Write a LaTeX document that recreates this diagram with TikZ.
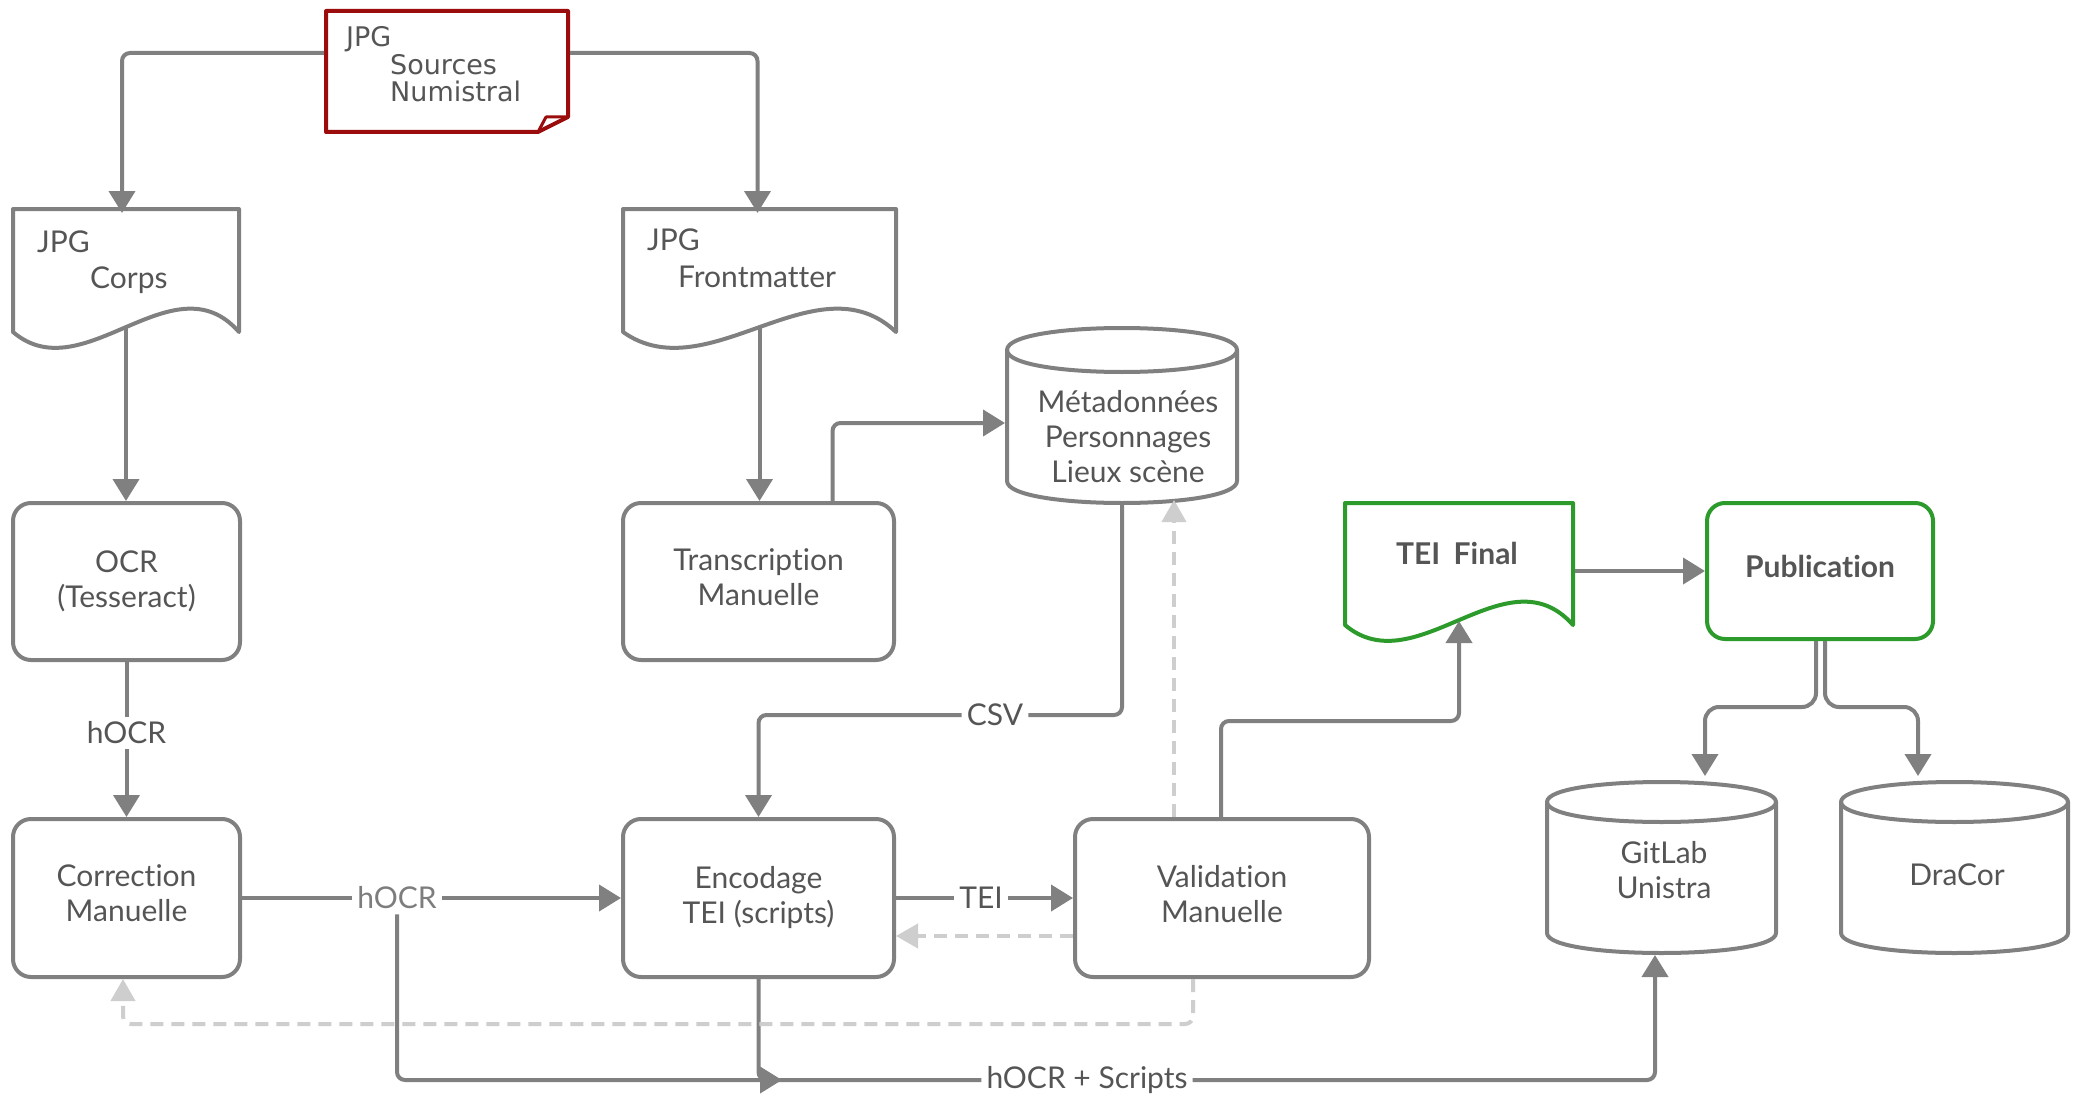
\documentclass[tikz,border=0pt]{standalone}
\usepackage{fontspec}
\setmainfont{Lato}[Ligatures={NoCommon}]
\newfontfamily\djv{DejaVu Sans}
\usetikzlibrary{arrows.meta,calc}
\definecolor{lg}{RGB}{128,128,128}
\definecolor{dg}{RGB}{206,206,206}
\definecolor{tx}{RGB}{85,85,85}
\definecolor{lt}{RGB}{125,125,125}
\definecolor{dred}{RGB}{155,12,12}
\definecolor{grn}{RGB}{44,155,44}
\newcommand\fsz{\fontsize{30pt}{35pt}\selectfont}
\newcommand\fsd{\djv\fontsize{27pt}{27pt}\selectfont}
\newcommand\dpx{\rule[-9pt]{0pt}{9pt}}
\newcommand\docshape[5]{%
  \pgfmathsetmacro\dw{#3-#1}%
  \draw[outl, draw=#5] (#1,#4) -- (#1,#2) -- (#3,#2) -- (#3,#4) .. controls ({#3-0.29*\dw},{#4-75}) and ({#1+0.31*\dw},{#4+60}) .. (#1,#4) -- cycle;}
\newcommand\cylshape[5]{%
  \pgfmathsetmacro\cyt{#2+#5}%
  \pgfmathsetmacro\cyb{#4-#5}%
  \pgfmathsetmacro\cyk{4/3*#5}%
  \draw[outl, draw=lg] (#1,\cyt) -- (#1,\cyb) .. controls ({#1},{\cyb+\cyk}) and ({#3},{\cyb+\cyk}) .. (#3,\cyb) -- (#3,\cyt) .. controls ({#3},{\cyt-\cyk}) and ({#1},{\cyt-\cyk}) .. cycle;
  \draw[line width=4pt, draw=lg] (#1,\cyt) .. controls ({#1},{\cyt+\cyk}) and ({#3},{\cyt+\cyk}) .. (#3,\cyt);}
\begin{document}
\begin{tikzpicture}[x=1pt,y=-1pt,
  every node/.style={text=tx},
  shp/.style={inner sep=0pt, outer sep=2pt, draw=none},
  rbox/.style={draw=lg, line width=4pt, rounded corners=18pt, fill=white, inner sep=0pt, font=\fsz, align=center},
  txt/.style={inner sep=0pt, font=\fsz, align=center},
  tl/.style={anchor=base west, inner sep=0pt, font=\fsz},
  lbl/.style={fill=white, inner sep=5pt, font=\fsz},
  ln/.style={draw=lg, line width=4pt, rounded corners=8pt},
  arr/.style={ln, -{Triangle[length=22pt,width=26pt]}},
  dsh/.style={draw=dg, line width=4pt, rounded corners=8pt, dash pattern=on 13pt off 8pt, -{Triangle[length=22pt,width=24pt]}},
  outl/.style={line width=4pt, fill=white, line join=round},
]
\useasboundingbox[fill=white] (0,0) rectangle (2078,1097);

% Sources
\draw[outl, draw=dred] (326,11) -- (568,11) -- (568,117) -- (538,132) -- (326,132) -- cycle;
\draw[line width=3pt, draw=dred, line join=round] (538,132) -- (546,117) -- (568,117);
\node[shp, minimum width=242pt, minimum height=121pt] (src) at (447,71.5) {};
\node[anchor=base west, inner sep=0pt, font=\fsd] (srcA) at (346,47) {JPG};
\node[anchor=base west, inner sep=0pt, font=\fsd] (srcB) at (390,75) {Sources};
\node[anchor=base west, inner sep=0pt, font=\fsd] (srcC) at (390,102) {Numistral};

% documents
\docshape{13}{209}{239}{332}{lg}
\node[shp, minimum width=226pt, minimum height=123pt] (corps) at (126,270.5) {};
\node[tl] (corpsA) at (37,252) {JPG};
\node[tl] (corpsB) at (90,288) {Corps};

\docshape{623}{209}{896}{332}{lg}
\node[shp, minimum width=273pt, minimum height=123pt] (front) at (759.5,270.5) {};
\node[tl] (frontA) at (647,250) {JPG};
\node[tl] (frontB) at (678,287) {Frontmatter};

\docshape{1345}{503}{1573}{625}{grn}
\node[shp, minimum width=228pt, minimum height=122pt] (teif) at (1459,564) {};
\node[inner sep=0pt, font=\fsz\bfseries] (teifT) at (1457,553) {TEI\hspace{0.45em}Final};

% cylinders
\cylshape{1007}{328}{1237}{503}{22}
\node[shp, minimum width=230pt, minimum height=175pt] (meta) at (1122,415.5) {};
\node[txt] (metaT) at (1128,437) {Métadonnées\\Personnages\\Lieux scène};

\cylshape{1547}{782}{1776}{953}{20}
\node[shp, minimum width=229pt, minimum height=171pt] (gitlab) at (1661.5,867.5) {};
\node[txt] (gitT) at (1664,870) {GitLab\\Unistra};

\cylshape{1841}{782}{2068}{953}{20}
\node[shp, minimum width=227pt, minimum height=171pt] (dracor) at (1954.5,867.5) {};
\node[txt] (draT) at (1957,875) {DraCor};

% boxes
\node[rbox, minimum width=227pt, minimum height=157pt] (ocr) at (126.5,581.5) {OCR\\(Tesseract)};
\node[rbox, minimum width=271pt, minimum height=157pt] (trans) at (758.5,581.5) {Transcription\\Manuelle\dpx};
\node[rbox, minimum width=227pt, minimum height=158pt] (corr) at (126.5,898) {Correction\\Manuelle\dpx};
\node[rbox, minimum width=271pt, minimum height=158pt] (enc) at (758.5,898) {Encodage\\TEI (scripts)};
\node[rbox, minimum width=294pt, minimum height=158pt] (val) at (1222,898) {Validation\\Manuelle\dpx};
\node[rbox, draw=grn, minimum width=226pt, minimum height=136pt, font=\fsz\bfseries] (pub) at (1820,571) {Publication\dpx};

% labels
\node[lbl] (l1) at (126.5,733) {hOCR};
\node[lbl, text=lt] (h2) at (397,898) {hOCR};
\node[lbl] (csv) at (995,715) {CSV};
\node[lbl] (tei) at (981,898) {TEI};
\node[lbl] (hs) at (1087,1080) {hOCR + Scripts};
\coordinate (m) at (782,1080);

% connectors
\draw[arr] ([yshift=18.5pt]src.west) -| ([xshift=-4pt,yshift=-6pt]corps.north);
\draw[arr] ([yshift=18.5pt]src.east) -| ([xshift=-2pt,yshift=-6pt]front.north);
\draw[arr] ([yshift=8pt]corps.south) -- (corps.south |- ocr.north);
\draw[ln] (ocr.south) -- (l1.north);
\draw[arr] (l1.south) -- (corr.north);
\draw[arr] ([yshift=8pt]front.south) -- (front.south |- trans.north);
\draw[arr] ([xshift=74pt]trans.north) |- ([yshift=-7.5pt]meta.west);
\draw[ln] (meta.south) |- (csv.east);
\draw[arr] (csv.west) -| (enc.north);
\draw[ln] (corr.east) -- (h2.west);
\draw[arr] (h2.east) -- (enc.west);
\draw[arr] (h2.south) |- (m);
\draw[ln] (enc.south) |- (hs.west);
\draw[arr] (hs.east) -| ([xshift=-6.5pt]gitlab.south);
\draw[ln] (enc.east) -- (tei.west);
\draw[arr] (tei.east) -- (val.west);
\draw[dsh] ([yshift=-38pt]val.west) -- ([yshift=-38pt]enc.east);
\draw[dsh] ([xshift=-48pt]val.north) -- ([xshift=52pt,yshift=5pt]meta.south);
\draw[dsh] ([xshift=-29pt]val.south) -- ++(0,45) -| ([xshift=-3.5pt]corr.south);
\draw[arr] ([xshift=-1pt]val.north) -- ++(0,-96) -| ([yshift=6pt]teif.south);
\draw[arr] (teif.east |- pub.west) -- (pub.west);
\draw[arr, rounded corners=14pt] ([xshift=-4pt]pub.south) -- ++(0,66) -| ([xshift=43.5pt,yshift=4pt]gitlab.north);
\draw[arr, rounded corners=14pt] ([xshift=5pt]pub.south) -- ++(0,66) -| ([xshift=-36.5pt,yshift=4pt]dracor.north);
\end{tikzpicture}
\end{document}
